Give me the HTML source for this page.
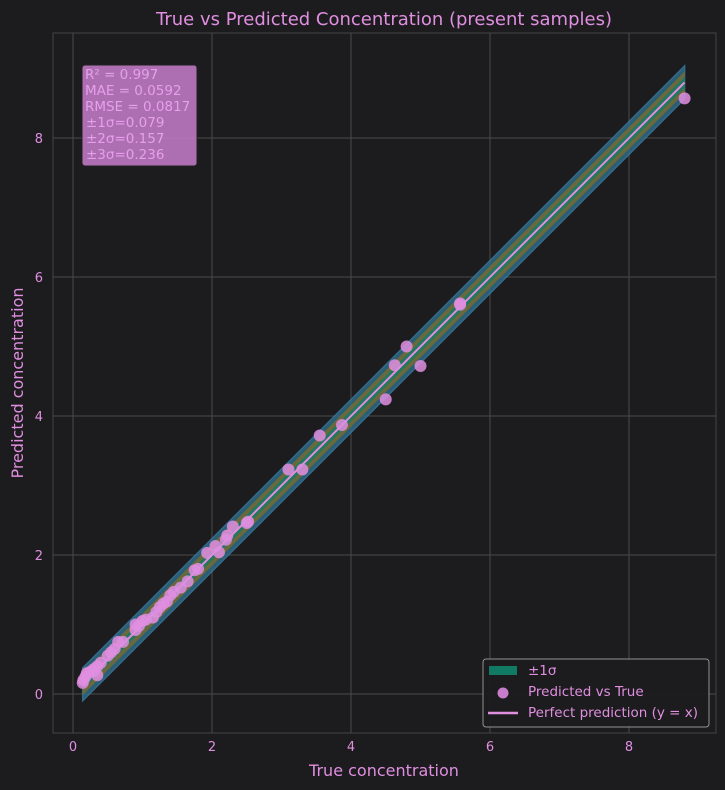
<!DOCTYPE html>
<html><head><meta charset="utf-8"><style>
body{margin:0;background:#1c1c1e;}
svg{display:block;font-family:"DejaVu Sans","Liberation Sans",sans-serif;}
</style></head><body>
<svg id="chart" width="725" height="790" xmlns="http://www.w3.org/2000/svg">
<rect width="725" height="790" fill="#1c1c1e"/>
<text x="384" y="25" fill="#e08ee0" font-size="18" text-anchor="middle">True vs Predicted Concentration (present samples)</text>
<g id="grid"></g>
<g id="bands"></g>
<g id="points"></g>
<g id="ticks"></g>
<rect x="53" y="33" width="663" height="700" fill="none" stroke="#444" stroke-width="1"/>
<text x="384" y="776" fill="#e08ee0" font-size="16" text-anchor="middle">True concentration</text>
<text transform="translate(23,383) rotate(-90)" fill="#e08ee0" font-size="16" text-anchor="middle">Predicted concentration</text>
<g>
<rect x="82" y="65" width="115" height="101" rx="3" fill="#c77dcc" opacity="0.85" stroke="#222"/>
<g fill="#e6a0ea" font-size="13.5">
<text x="85" y="79">R² = 0.997</text><text x="85" y="95">MAE = 0.0592</text><text x="85" y="111">RMSE = 0.0817</text>
<text x="86" y="127">±1σ=0.079</text><text x="86" y="143">±2σ=0.157</text><text x="86" y="159">±3σ=0.236</text></g></g>
<g>
<rect x="483" y="659" width="226" height="68" rx="3" fill="#1c1c1e" stroke="#999" opacity="0.95"/>
<rect x="489" y="666" width="28" height="9" fill="#117a65"/>
<text x="528" y="675" fill="#e08ee0" font-size="13.5">±1σ</text>
<circle cx="503" cy="693" r="5.5" fill="#c77dcc"/>
<text x="528" y="696" fill="#e08ee0" font-size="13.5">Predicted vs True</text>
<line x1="488" y1="713" x2="518" y2="713" stroke="#e08ee0" stroke-width="2.5"/>
<text x="528" y="717" fill="#e08ee0" font-size="13.5">Perfect prediction (y = x)</text></g>
</svg>
<script>
const trueVals=[8.8,5.57,5.57,4.8,4.63,5.0,4.5,3.87,3.55,3.1,3.3,2.52,2.5,2.3,2.22,2.2,2.1,2.05,1.93,1.8,1.75,1.65,1.55,1.45,1.4,1.35,1.3,1.25,1.2,1.15,1.05,1.0,0.95,0.9,0.9,0.72,0.65,0.6,0.55,0.5,0.4,0.35,0.3,0.25,0.2,0.18,0.15,0.14,0.35,0.3];
const predVals=[8.57,5.6,5.62,5.0,4.73,4.72,4.24,3.87,3.72,3.23,3.23,2.48,2.46,2.41,2.28,2.22,2.04,2.13,2.03,1.8,1.78,1.62,1.53,1.47,1.42,1.33,1.3,1.25,1.18,1.1,1.07,1.05,0.98,1.0,0.92,0.75,0.75,0.65,0.6,0.55,0.45,0.4,0.36,0.32,0.3,0.25,0.2,0.16,0.27,0.33];
const sigmas=[0.079,0.157,0.236];
const xTicks=[0,2,4,6,8];
const yTicks=[0,2,4,6,8];
const ns="http://www.w3.org/2000/svg";
const X=v=>73+v*69.5, Y=v=>694-v*69.5;
function mk(t,a,p){const e=document.createElementNS(ns,t);for(const k in a)e.setAttribute(k,a[k]);p.appendChild(e);return e;}
const grid=document.getElementById('grid'),ticks=document.getElementById('ticks');
xTicks.forEach(t=>{
 const l=mk('line',{x1:X(t),x2:X(t),y1:33,y2:733,stroke:'#4a4a4a','stroke-width':1},grid);
 
 
 const s=mk('text',{x:X(t),y:751,fill:'#e08ee0','font-size':13,'text-anchor':'middle'},ticks);s.textContent=t;
 
 
});
yTicks.forEach(t=>{
 const l=mk('line',{x1:53,x2:716,y1:Y(t),y2:Y(t),stroke:'#4a4a4a','stroke-width':1},grid);
 
 
 const s=mk('text',{x:43,y:Y(t)+5,fill:'#e08ee0','font-size':13,'text-anchor':'end'},ticks);s.textContent=t;
 
 
});
const lo=Math.min(...trueVals),hi=Math.max(...trueVals);
const bands=document.getElementById('bands');
const cols=['#2e6f8a','#7a6a30','#117a65'],names=['band-3sigma','band-2sigma','band-1sigma'];
[2,1,0].forEach((i,k)=>{const s=sigmas[i];
 const p=mk('polygon',{points:`${X(lo)},${Y(lo+s)} ${X(hi)},${Y(hi+s)} ${X(hi)},${Y(hi-s)} ${X(lo)},${Y(lo-s)}`,fill:cols[k],opacity:0.8,stroke:'#3b7ea6','stroke-width':k==0?1.5:0},bands);
 
 
});
const pl=mk('line',{x1:X(lo),y1:Y(lo),x2:X(hi),y2:Y(hi),stroke:'#e08ee0','stroke-width':2},bands);


const pts=document.getElementById('points');
trueVals.forEach((v,i)=>{
 const c=mk('circle',{cx:X(v),cy:Y(predVals[i]),r:6,fill:'#e08ee0',opacity:0.85},pts);
 
 
});
</script>
</body></html>
